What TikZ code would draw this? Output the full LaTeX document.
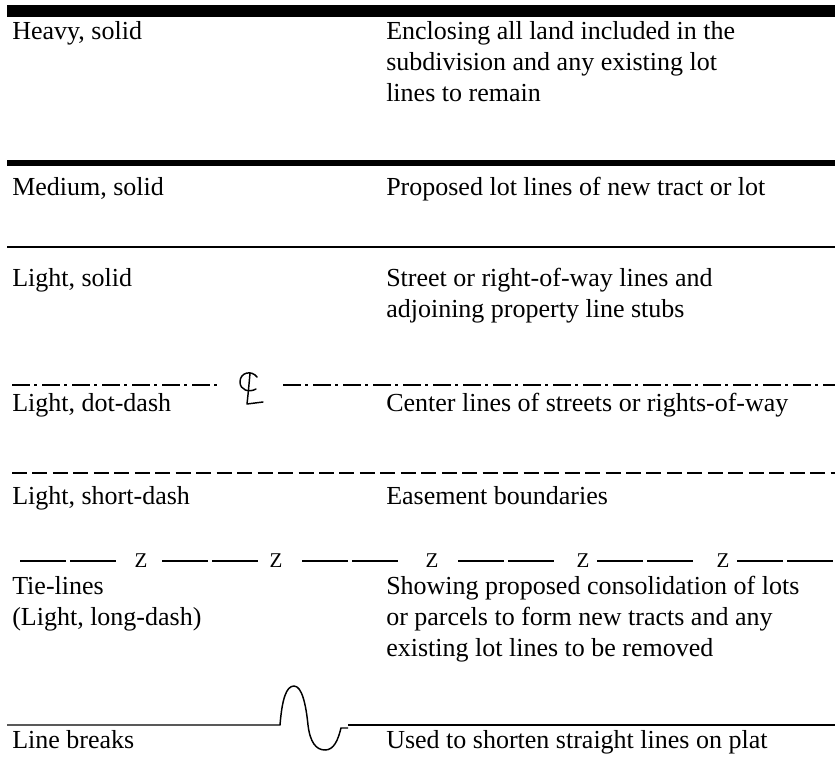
\documentclass[tikz,border=0pt]{standalone}
\usepackage{fontspec}
\setmainfont{Liberation Serif}
\newcommand{\legendfont}{\fontsize{19.5pt}{23.25pt}\selectfont}
\newcommand{\tiefont}{\fontsize{15.75pt}{18pt}\selectfont}

\begin{document}
\begin{tikzpicture}[x=0.75pt,y=0.75pt,yscale=-1,xscale=1,
  lbl/.style={anchor=base west,inner sep=0pt,font=\legendfont},
  heavyline/.style={line width=9pt},
  mediumline/.style={line width=4.5pt},
  lightline/.style={line width=1.1pt},
  dotdashline/.style={lightline,dash pattern={on 13.5pt off 3pt on 2.25pt off 3.75pt}},
  shortdashline/.style={lightline,dash pattern={on 11.25pt off 4.1pt}}]
\useasboundingbox (0,0) rectangle (835,757);

%Straight Lines [heavy, solid]
\draw [heavyline] (7,11) -- (835,11) ;
% Text Node
\draw (12,39) node (heavy) [lbl] {Heavy, solid};
\draw (386,39) node (heavyA) [lbl] {Enclosing all land included in the};
\draw (386,70) node (heavyB) [lbl] {subdivision and any existing lot};
\draw (386,101) node (heavyC) [lbl] {lines to remain};

%Straight Lines [medium, solid]
\draw [mediumline] (7,163) -- (835,163) ;
% Text Node
\draw (12,195) node (medium) [lbl] {Medium, solid};
\draw (386,195) node (mediumA) [lbl] {Proposed lot lines of new tract or lot};

%Straight Lines [light, solid]
\draw [lightline] (7,247) -- (835,247) ;
% Text Node
\draw (12,286) node (light) [lbl] {Light, solid};
\draw (386,286) node (lightA) [lbl] {Street or right-of-way lines and};
\draw (386,317) node (lightB) [lbl] {adjoining property line stubs};

%Straight Lines [light, dot-dash]
\draw [dotdashline] (12,385) -- (222,385) ;
\draw [dotdashline] (283,385) -- (835,385) ;
%Shape: centre line symbol
\draw [line width=1.1pt,line cap=round] (257,377) .. controls (252,370) and (240,372) .. (240,382) .. controls (240,390) and (249,393) .. (256,389) ;
\draw [line width=1.1pt,line cap=round,line join=round] (250,373) .. controls (249,385) and (248,395) .. (247,404) -- (263,402) ;
% Text Node
\draw (12,411) node (dotdash) [lbl] {Light, dot-dash};
\draw (386,411) node (dotdashA) [lbl] {Center lines of streets or rights-of-way};

%Straight Lines [light, short-dash]
\draw [shortdashline] (12,473) -- (835,473) ;
% Text Node
\draw (12,504) node (short) [lbl] {Light, short-dash};
\draw (386,504) node (shortA) [lbl] {Easement boundaries};

%Straight Lines [tie-lines]
\foreach \s in {20,162,302,458,597,737}
  {\draw [lightline] (\s,561) -- ++(46,0) ;
   \draw [lightline] (\s+50,561) -- ++(46,0) ;}
\foreach \z [count=\i] in {141,276,432,583,723}
  \draw (\z,567) node (tie\i) [anchor=base,inner sep=0pt,font=\tiefont] {Z};
% Text Node
\draw (12,594) node (tie) [lbl] {Tie-lines};
\draw (12,625) node (tieB) [lbl] {(Light, long-dash)};
\draw (386,594) node (tieA) [lbl] {Showing proposed consolidation of lots};
\draw (386,625) node (tieC) [lbl] {or parcels to form new tracts and any};
\draw (386,656) node (tieD) [lbl] {existing lot lines to be removed};

%Shape: line break
\draw [lightline] (7,725) -- (280,725) .. controls (282,700) and (286,686) .. (294,686) .. controls (302,686) and (306,705) .. (308,725) .. controls (310,742) and (316,750) .. (325,750) .. controls (334,750) and (338,740) .. (341,728) -- (348,728) ;
\draw [lightline] (348,725) -- (835,725) ;
% Text Node
\draw (12,748) node (breaks) [lbl] {Line breaks};
\draw (386,748) node (breaksA) [lbl] {Used to shorten straight lines on plat};

\end{tikzpicture}
\end{document}
